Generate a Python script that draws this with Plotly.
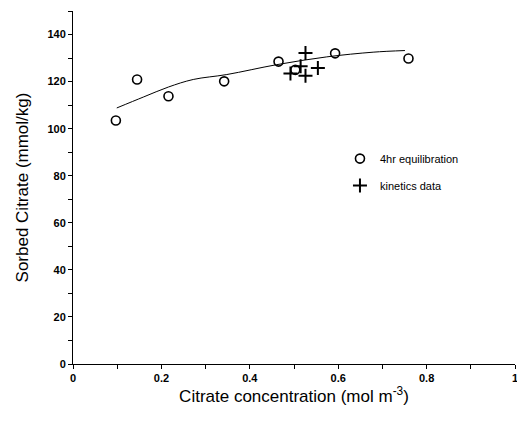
import plotly.graph_objects as go

# 4 hr equilibration points
eq_x = [0.097, 0.145, 0.216, 0.342, 0.465, 0.503, 0.593, 0.759]
eq_y = [103.5, 120.9, 113.8, 120.1, 128.5, 125.0, 132.0, 129.8]

# kinetics data points
kin_x = [0.492, 0.515, 0.526, 0.526, 0.554]
kin_y = [123.4, 126.5, 132.2, 122.5, 125.8]

# fitted curve
fit_x = [0.099, 0.160, 0.216, 0.272, 0.348, 0.461, 0.574, 0.679, 0.751]
fit_y = [108.8, 113.5, 117.7, 120.9, 123.0, 127.2, 130.5, 132.5, 133.2]

FONT = "Liberation Sans, Arial, sans-serif"

fig = go.Figure()

fig.add_trace(go.Scatter(
    x=fit_x, y=fit_y, mode="lines", line=dict(color="black", width=1, shape="spline"),
    showlegend=False, hoverinfo="skip",
))
fig.add_trace(go.Scatter(
    x=eq_x, y=eq_y, mode="markers", name="4hr equilibration", legendgroup="a",
    marker=dict(symbol="circle-open", size=9, color="black", line=dict(width=1.6)),
))
fig.add_trace(go.Scatter(
    x=kin_x, y=kin_y, mode="markers", name="kinetics data", legendgroup="b",
    marker=dict(symbol="cross-thin-open", size=10, color="black", line=dict(width=2)),
))

fig.update_layout(
    width=517, height=422,
    margin=dict(l=73, r=2, t=11, b=58),
    paper_bgcolor="white", plot_bgcolor="white",
    font=dict(family=FONT, color="black"),
    legend=dict(
        x=0.604, y=0.623, xanchor="left", yanchor="top",
        font=dict(size=11, family=FONT), bgcolor="rgba(0,0,0,0)",
        traceorder="grouped", tracegroupgap=8, itemwidth=30,
    ),
    xaxis=dict(
        range=[0, 1], tickvals=[0, 0.2, 0.4, 0.6, 0.8, 1],
        ticktext=["0", "0.2", "0.4", "0.6", "0.8", "1"],
        ticks="outside", ticklen=4, tickwidth=1, tickcolor="black",
        minor=dict(dtick=0.1, ticks="outside", ticklen=4, tickcolor="black"),
        showline=True, linecolor="black", linewidth=1,
        showgrid=False, zeroline=False, automargin=False,
        ticklabeloverflow="allow",
        tickfont=dict(size=11, family=FONT, weight="bold"),
        title=dict(text="Citrate concentration (mol m<sup>-3</sup>)",
                   font=dict(size=17, family=FONT), standoff=5),
    ),
    yaxis=dict(
        range=[0, 150], tickvals=[0, 20, 40, 60, 80, 100, 120, 140],
        ticks="outside", ticklen=4, tickwidth=1, tickcolor="black",
        minor=dict(dtick=10, ticks="outside", ticklen=4, tickcolor="black"),
        showline=True, linecolor="black", linewidth=1,
        showgrid=False, zeroline=False, automargin=False,
        tickfont=dict(size=11, family=FONT, weight="bold"),
        title=dict(text="Sorbed Citrate (mmol/kg)",
                   font=dict(size=17, family=FONT), standoff=14),
    ),
)

fig.write_html("out.html", config={"displayModeBar": False},
               post_script="document.body.style.margin='0';")
